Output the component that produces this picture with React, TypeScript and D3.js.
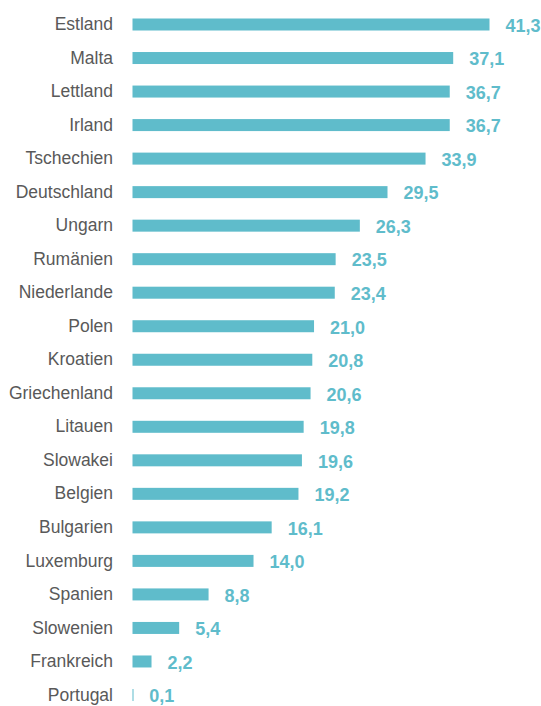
import React from 'react';
import * as d3 from 'd3';

const countries = [
  'Estland', 'Malta', 'Lettland', 'Irland', 'Tschechien', 'Deutschland', 'Ungarn',
  'Rumänien', 'Niederlande', 'Polen', 'Kroatien', 'Griechenland', 'Litauen',
  'Slowakei', 'Belgien', 'Bulgarien', 'Luxemburg', 'Spanien', 'Slowenien',
  'Frankreich', 'Portugal',
];
const values = [
  41.3, 37.1, 36.7, 36.7, 33.9, 29.5, 26.3, 23.5, 23.4, 21.0, 20.8, 20.6, 19.8,
  19.6, 19.2, 16.1, 14.0, 8.8, 5.4, 2.2, 0.1,
];

const width = 541;
const height = 706;
const barColor = '#5fbccb';

const App = () => {
  const x = d3.scaleLinear().domain([0, 41.3]).range([132.5, 489.5]);
  const y = d3.scalePoint<string>().domain(countries).range([24.5, 695]);
  const fmt = (v: number) => v.toFixed(1).replace('.', ',');

  return (
    <svg width={width} height={height} style={{ position: 'absolute', left: 0, top: 0 }}>
      {countries.map((c, i) => {
        const cy = y(c)!;
        return (
          <g key={c}>
            <text x={113} y={cy - 0.5} dy="0.35em" textAnchor="end"
              fontFamily="Liberation Sans, Arial, sans-serif" fontSize={17.5} fill="#595959">
              {c}
            </text>
            <rect x={x(0)} y={cy - 6} width={Math.max(1, x(values[i]) - x(0))} height={12}
              fill={barColor} />
            <text x={x(values[i]) + 16} y={cy + 1} dy="0.35em"
              fontFamily="Liberation Sans, Arial, sans-serif"
              fontWeight="bold" fontSize={18} fill={barColor}>
              {fmt(values[i])}
            </text>
          </g>
        );
      })}
    </svg>
  );
};

export default App;
